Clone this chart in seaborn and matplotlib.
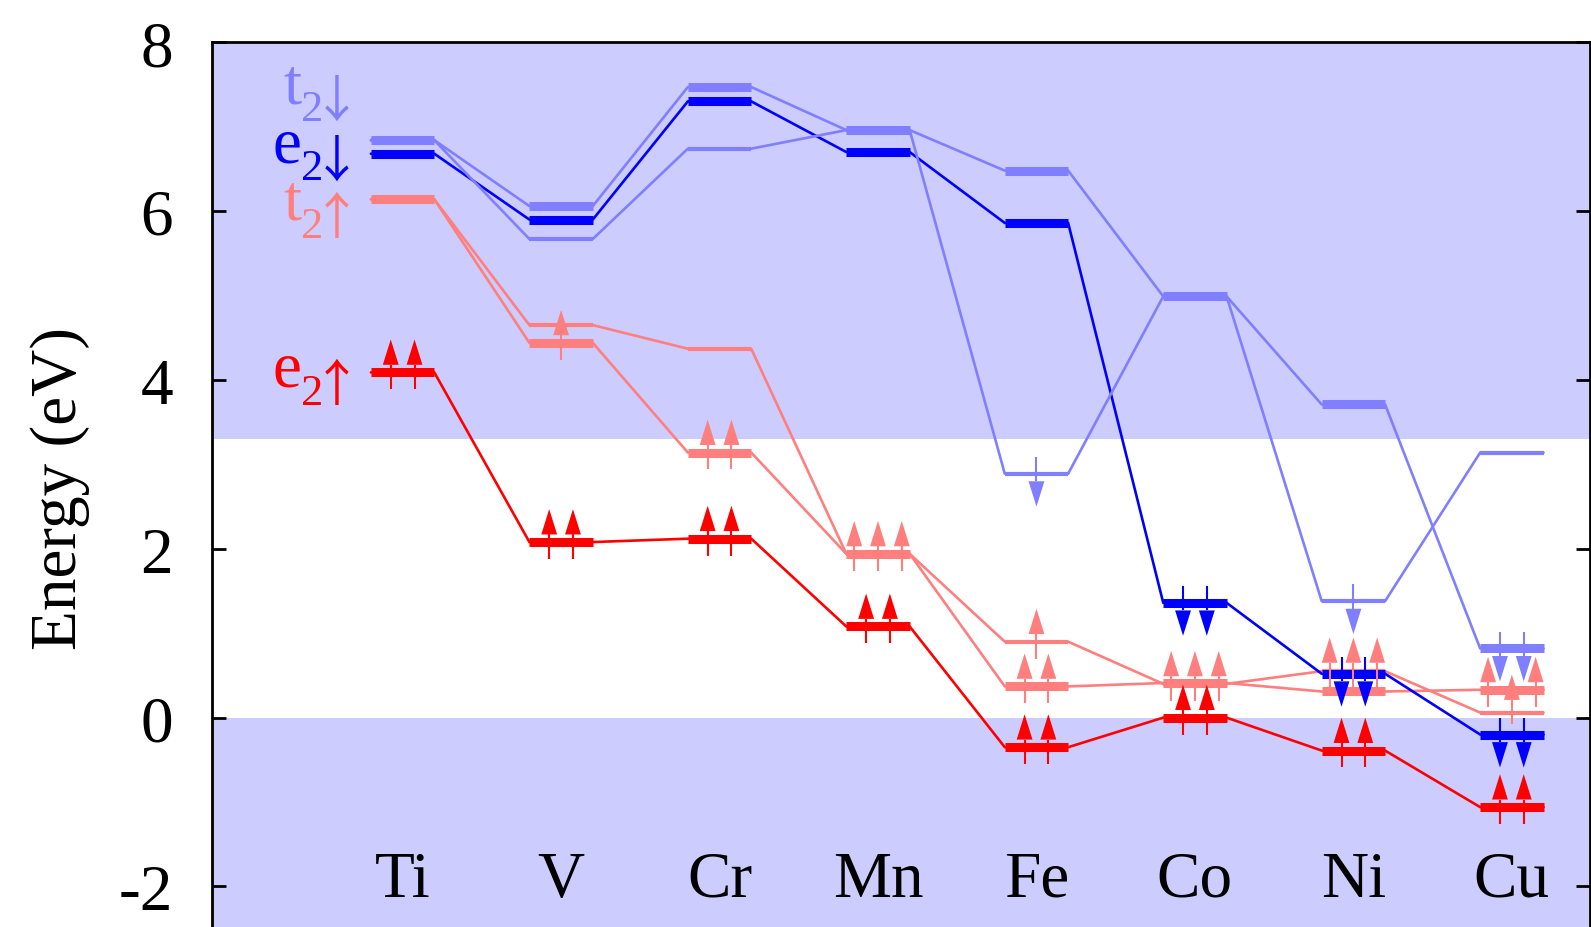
import numpy as np
import pandas as pd
import matplotlib
matplotlib.use("Agg")
import matplotlib.pyplot as plt
import matplotlib.font_manager as fm
import seaborn as sns

# ---------------- data ----------------
elements = ["Ti", "V", "Cr", "Mn", "Fe", "Co", "Ni", "Cu"]

e_up        = [4.09, 2.08, 2.12, 1.08, -0.35, 0.00, -0.39, -1.06]
t_up_pair   = [6.14, 4.44, 3.14, 1.94, 0.37, 0.41, 0.31, 0.33]
t_up_single = [6.14, 4.65, 4.37, 1.94, 0.90, 0.40, 0.55, 0.06]
e_dn        = [6.68, 5.90, 7.30, 6.70, 5.86, 1.36, 0.52, -0.20]
t_dn_pair   = [6.84, 6.06, 7.47, 6.96, 6.48, 4.99, 3.71, 0.82]
t_dn_single = [6.84, 5.67, 6.74, 6.96, 2.89, 4.99, 1.38, 3.14]

# electrons (arrows): element, energy, slot, spin, orbital
arrow_element = ["Ti", "Ti",
                 "V", "V", "V",
                 "Cr", "Cr", "Cr", "Cr",
                 "Mn", "Mn", "Mn", "Mn", "Mn",
                 "Fe", "Fe", "Fe", "Fe", "Fe", "Fe",
                 "Co", "Co", "Co", "Co", "Co", "Co", "Co",
                 "Ni", "Ni", "Ni", "Ni", "Ni", "Ni", "Ni", "Ni",
                 "Cu", "Cu", "Cu", "Cu", "Cu", "Cu", "Cu", "Cu", "Cu"]
arrow_energy = [4.09, 4.09,
                2.08, 2.08, 4.44,
                2.12, 2.12, 3.14, 3.14,
                1.08, 1.08, 1.94, 1.94, 1.94,
                -0.35, -0.35, 0.37, 0.37, 0.90, 2.89,
                0.00, 0.00, 0.40, 0.40, 0.40, 1.36, 1.36,
                -0.39, -0.39, 0.56, 0.56, 0.56, 0.52, 0.52, 1.38,
                -1.06, -1.06, 0.33, 0.12, 0.33, -0.20, -0.20, 0.82, 0.82]
arrow_slot = [-0.5, 0.5,
              -0.5, 0.5, 0,
              -0.5, 0.5, -0.5, 0.5,
              -0.5, 0.5, -1, 0, 1,
              -0.5, 0.5, -0.5, 0.5, 0, 0,
              -0.5, 0.5, -1, 0, 1, -0.5, 0.5,
              -0.5, 0.5, -1, 0, 1, -0.5, 0.5, 0,
              -0.5, 0.5, -1, 0, 1, -0.5, 0.5, -0.5, 0.5]
arrow_spin = ["up", "up",
              "up", "up", "up",
              "up", "up", "up", "up",
              "up", "up", "up", "up", "up",
              "up", "up", "up", "up", "up", "dn",
              "up", "up", "up", "up", "up", "dn", "dn",
              "up", "up", "up", "up", "up", "dn", "dn", "dn",
              "up", "up", "up", "up", "up", "dn", "dn", "dn", "dn"]
arrow_orbital = ["e", "e",
                 "e", "e", "t",
                 "e", "e", "t", "t",
                 "e", "e", "t", "t", "t",
                 "e", "e", "t", "t", "t", "t",
                 "e", "e", "t", "t", "t", "e", "e",
                 "e", "e", "t", "t", "t", "e", "e", "t",
                 "e", "e", "t", "t", "t", "e", "e", "t", "t"]

level_letters = ["t", "e", "t", "e"]
level_subscript = ["2", "2", "2", "2"]
level_spins = ["↓", "↓", "↑", "↑"]
label_energy = [7.29, 6.59, 5.91, 3.93]

# ---------------- fonts ----------------
def find_font(keys, default):
    files = fm.findSystemFonts()
    for key in keys:
        for f in files:
            if key.lower() in f.lower().replace(" ", ""):
                try:
                    fm.fontManager.addfont(f)
                    return fm.FontProperties(fname=f).get_name()
                except Exception:
                    pass
    return default

serif_name = find_font(["LiberationSerif-Regular", "TimesNewRoman",
                        "NimbusRoman-Regular", "FreeSerif"], "DejaVu Serif")
SERIF = [serif_name, "DejaVu Serif"]
ARROWFONT = ["Noto Sans CJK JP", "DejaVu Sans"]

# ---------------- style ----------------
RED, SALMON, BLUE, LBLUE = "#ff0000", "#ff7f7f", "#0000ff", "#7f7fff"
SHADE = "#ccccff"
colors = {("e", "up"): RED, ("t", "up"): SALMON, ("e", "dn"): BLUE, ("t", "dn"): LBLUE}

sns.set_style("ticks")
plt.rcParams["font.family"] = SERIF
plt.rcParams["axes.unicode_minus"] = False
plt.rcParams["text.color"] = "black"
plt.rcParams["axes.labelcolor"] = "black"
plt.rcParams["ytick.color"] = "black"
plt.rcParams["xtick.color"] = "black"

W, H = 1591, 928
fig = plt.figure(figsize=(W / 100, H / 100), dpi=100)
ax = fig.add_axes([212 / W, 0.0, 1377.5 / W, (H - 43.3) / H])
ax.set_facecolor("white")

ymin, ymax = -2.48, 8.0
ax.axhspan(3.3, ymax, color=SHADE, lw=0, zorder=0)
ax.axhspan(ymin, 0.0, color=SHADE, lw=0, zorder=0)

half = 0.2

series = [("e_up", e_up, RED, "thick"),
          ("t_up_single", t_up_single, SALMON, "thin"),
          ("t_up_pair", t_up_pair, SALMON, "thick"),
          ("e_dn", e_dn, BLUE, "thick"),
          ("t_dn_single", t_dn_single, LBLUE, "thin"),
          ("t_dn_pair", t_dn_pair, LBLUE, "thick")]

rows = []
for name, vals, col, kind in series:
    for i, v in enumerate(vals):
        rows.append((name, i - half, v))
        rows.append((name, i + half, v))
df = pd.DataFrame(rows, columns=["series", "x", "energy"])

palette = {name: col for name, vals, col, kind in series}
sns.lineplot(data=df, x="x", y="energy", hue="series", units="series",
             estimator=None, palette=palette, linewidth=1.9, legend=False,
             sort=True, ax=ax, zorder=2)

for name, vals, col, kind in series:
    lw = 6.5 if kind == "thick" else 3.0
    for i, v in enumerate(vals):
        ax.plot([i - half, i + half], [v, v], color=col, lw=lw,
                solid_capstyle="butt", zorder=3)

# arrows
spacing = 0.15
head_hw = 0.05
for el, en, slot, spin, orb in zip(arrow_element, arrow_energy, arrow_slot,
                                    arrow_spin, arrow_orbital):
    x = elements.index(el) + slot * spacing
    col = colors[(orb, spin)]
    s = 1 if spin == "up" else -1
    tail, base, tip = en - 0.2 * s, en + 0.09 * s, en + 0.39 * s
    ax.plot([x, x], [tail, base], color=col, lw=1.5, zorder=4,
            solid_capstyle="butt")
    ax.fill([x - head_hw, x + head_hw, x], [base, base, tip], color=col,
            lw=0, zorder=4)

# element labels
for i, el in enumerate(elements):
    ax.text(i, -2.11, el, ha="center", va="baseline", fontsize=47,
            family=SERIF, zorder=5)

ax.set_xlim(-1.203, 7.49)
ax.set_ylim(ymin, ymax)
ax.set_xticks([])
ax.set_yticks([-2, 0, 2, 4, 6, 8])
ax.set_yticklabels(["-2", "0", "2", "4", "6", "8"], family=SERIF)
ax.tick_params(axis="y", direction="in", length=10, width=2, left=True,
               right=True, labelsize=47, pad=28, colors="black")
for side in ["left", "right", "top"]:
    ax.spines[side].set_linewidth(2)
    ax.spines[side].set_color("black")
ax.spines["bottom"].set_visible(False)
ax.set_xlabel("")
ax.set_ylabel("Energy (eV)", fontsize=47, family=SERIF, color="black")
ax.yaxis.set_label_coords(-0.0886, 0.497)

# level labels: letter + subscript "2" + spin arrow, laid out right to left
fig.canvas.draw()
renderer = fig.canvas.get_renderer()
inv = ax.transData.inverted()
label_colors = [LBLUE, BLUE, SALMON, RED]
px_per_y = ax.transData.transform((0, 1))[1] - ax.transData.transform((0, 0))[1]
sub_drop = 18.0 / px_per_y
arrow_lift = 4.0 / px_per_y
arrow_x = -0.4135
for let, sub, sp, en, col in zip(level_letters, level_subscript, level_spins,
                                 label_energy, label_colors):
    ax.text(arrow_x, en - sub_drop + arrow_lift, sp, ha="center", va="baseline",
            fontsize=36, color=col, family=ARROWFONT, zorder=5)
    cx = ax.transData.transform((arrow_x, 0))[0]
    xl = inv.transform((cx - 14, 0))[0]
    t_sub = ax.text(xl, en - sub_drop, sub, ha="right", va="baseline",
                    fontsize=32, color=col, family=SERIF, zorder=5)
    left = t_sub.get_window_extent(renderer).x0
    xl = inv.transform((left + 1, 0))[0]
    ax.text(xl, en, let, ha="right", va="baseline", fontsize=47, color=col,
            family=SERIF, zorder=5)

fig.savefig("out.png", dpi=100)
